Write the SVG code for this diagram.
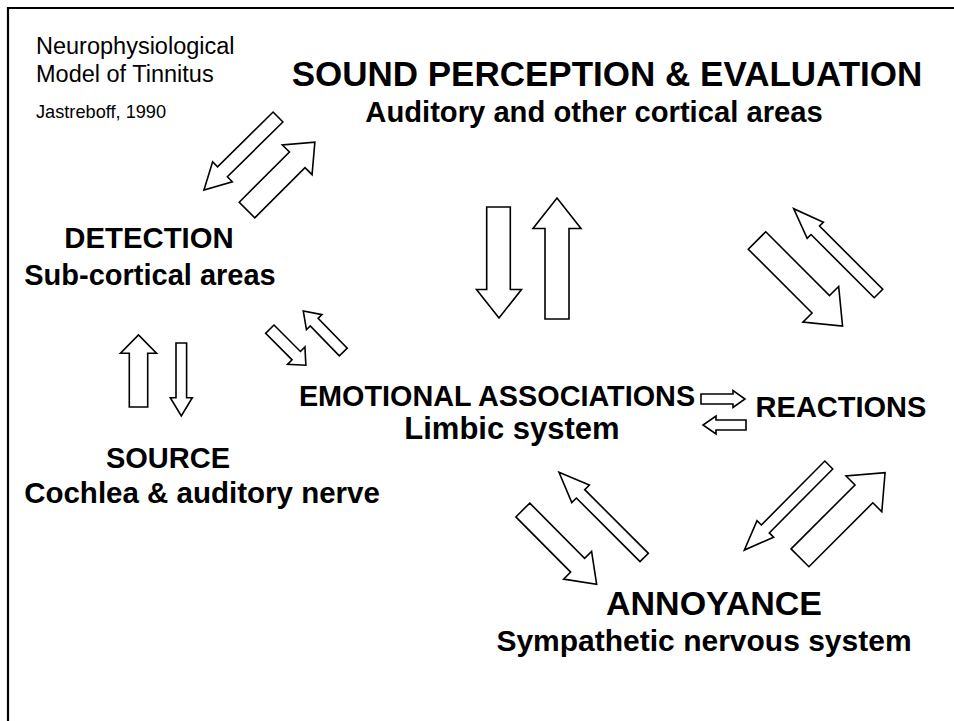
<svg xmlns="http://www.w3.org/2000/svg" width="954" height="721" viewBox="0 0 954 721">
<style>
text{font-family:"Liberation Sans",Arial,sans-serif;fill:#000}
.b{font-weight:bold}
.a{fill:#fff;stroke:#000;stroke-width:1.6;stroke-linejoin:miter}
</style>
<rect x="0" y="0" width="954" height="721" fill="#fff"/>
<path d="M8,721 V8 H954" fill="none" stroke="#000" stroke-width="2.2"/>
<g id="caption">
<text x="36" y="54" font-size="23.5">Neurophysiological</text>
<text x="36" y="82" font-size="23.5">Model of Tinnitus</text>
<text x="36" y="118" font-size="18.2">Jastreboff, 1990</text>
</g>
<g id="perception" text-anchor="middle">
<text x="607" y="86" font-size="35" class="b">SOUND PERCEPTION &amp; EVALUATION</text>
<text x="594" y="122" font-size="29.2" class="b">Auditory and other cortical areas</text>
</g>
<g id="detection" text-anchor="middle">
<text x="149" y="248" font-size="29.3" class="b">DETECTION</text>
<text x="150" y="285" font-size="29" class="b">Sub-cortical areas</text>
</g>
<g id="source" text-anchor="middle">
<text x="168" y="468" font-size="29" class="b">SOURCE</text>
<text x="202" y="503" font-size="29.5" class="b">Cochlea &amp; auditory nerve</text>
</g>
<g id="emotional" text-anchor="middle">
<text x="497" y="406" font-size="28.8" class="b">EMOTIONAL ASSOCIATIONS</text>
<text x="512" y="439" font-size="31" class="b">Limbic system</text>
</g>
<g id="reactions" text-anchor="middle">
<text x="841" y="417" font-size="29" class="b">REACTIONS</text>
</g>
<g id="annoyance" text-anchor="middle">
<text x="714" y="615" font-size="34" class="b">ANNOYANCE</text>
<text x="704" y="651" font-size="30" class="b">Sympathetic nervous system</text>
</g>
<g id="connectors">
<polygon class="a" transform="translate(278,117) rotate(135.4)" points="0,-7 78,-7 78,-14 104,0 78,14 78,7 0,7"/>
<polygon class="a" transform="translate(247,210) rotate(-45)" points="0,-11 71,-11 71,-21 96,0 71,21 71,11 0,11"/>
<polygon class="a" points="486.7,207 510.3,207 510.3,289.5 521.5,289.5 499,318 476.5,289.5 486.7,289.5"/>
<polygon class="a" points="545,319 545,228.5 533,228.5 557,198 581,228.5 569,228.5 569,319"/>
<polygon class="a" transform="translate(757,240.5) rotate(45)" points="0,-12.35 90.2,-12.35 90.2,-25.3 121,0 90.2,25.3 90.2,12.35 0,12.35"/>
<polygon class="a" transform="translate(878.5,293.5) rotate(-135)" points="0,-6 89.4,-6 89.4,-11.5 120,0 89.4,11.5 89.4,6 0,6"/>
<polygon class="a" transform="translate(269.8,329.2) rotate(45)" points="0,-5.9 37.4,-5.9 37.4,-12.3 51,0 37.4,12.3 37.4,5.9 0,5.9"/>
<polygon class="a" transform="translate(343.3,352) rotate(-134.3)" points="0,-5.5 41.7,-5.5 41.7,-10.8 57.3,0 41.7,10.8 41.7,5.5 0,5.5"/>
<polygon class="a" points="129.3,407 129.3,353.3 120.5,353.3 138.5,335 156.5,353.3 147.7,353.3 147.7,407"/>
<polygon class="a" points="176,343 186.6,343 186.6,397.7 192.3,397.7 181.3,416 170.3,397.7 176,397.7"/>
<polygon class="a" points="701,394 733,394 733,390.5 745,399 733,407.5 733,404 701,404"/>
<polygon class="a" points="746,420 716,420 716,416 703,425 716,434 716,430 746,430"/>
<polygon class="a" transform="translate(522.8,510) rotate(45.2)" points="0,-9.8 77.8,-9.8 77.8,-19.7 104.8,0 77.8,19.7 77.8,9.8 0,9.8"/>
<polygon class="a" transform="translate(644.2,557.5) rotate(-135)" points="0,-5.9 90,-5.9 90,-12.4 120.5,0 90,12.4 90,5.9 0,5.9"/>
<polygon class="a" transform="translate(828.8,465) rotate(134.8)" points="0,-5.6 90.1,-5.6 90.1,-11.7 119.9,0 90.1,11.7 90.1,5.6 0,5.6"/>
<polygon class="a" transform="translate(800,557.8) rotate(-45)" points="0,-12.6 90.4,-12.6 90.4,-25.3 120.3,0 90.4,25.3 90.4,12.6 0,12.6"/>
</g>
</svg>
